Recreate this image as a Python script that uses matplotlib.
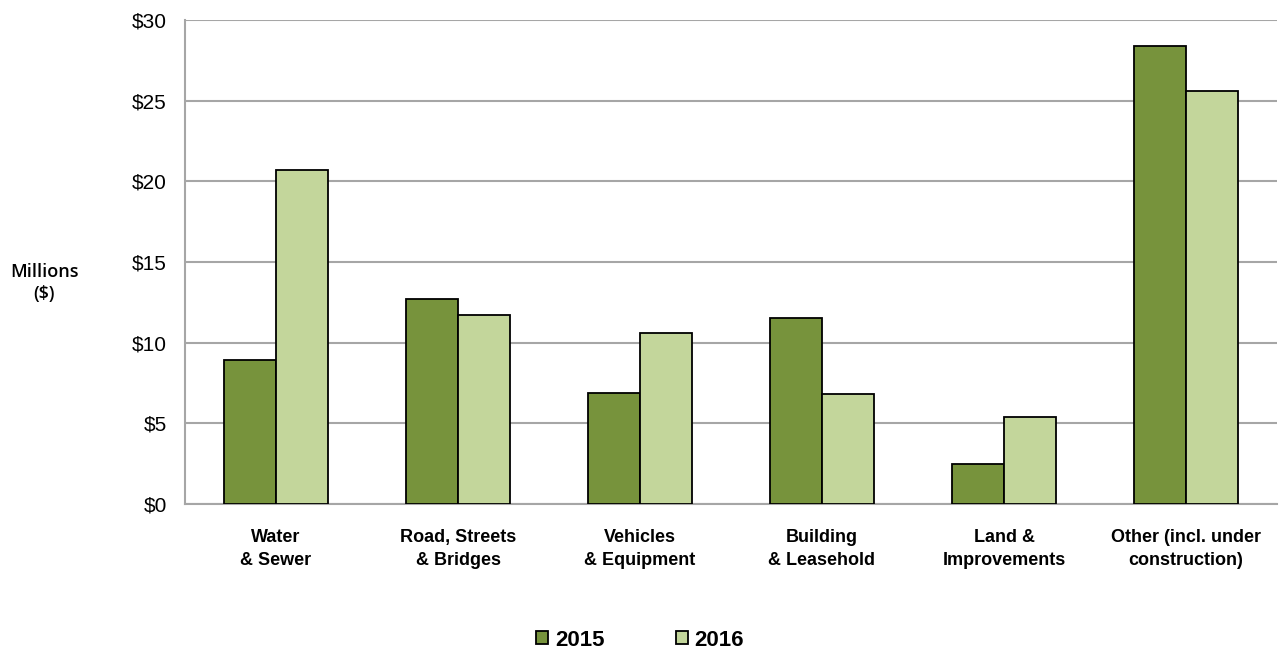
import matplotlib.pyplot as plt
import numpy as np

categories = [
    "Water\n& Sewer",
    "Road, Streets\n& Bridges",
    "Vehicles\n& Equipment",
    "Building\n& Leasehold",
    "Land &\nImprovements",
    "Other (incl. under\nconstruction)",
]
values_2015 = [8.9, 12.7, 6.9, 11.5, 2.5, 28.4]
values_2016 = [20.7, 11.7, 10.6, 6.8, 5.4, 25.6]
yticks = [0, 5, 10, 15, 20, 25, 30]

COLOR_2015 = "#77933c"
COLOR_2016 = "#c3d69b"
GRID = "#a6a6a6"
BAR_W = 0.286

plt.rcParams["font.family"] = ["Liberation Sans", "DejaVu Sans"]

fig = plt.figure(figsize=(12.8, 6.55), dpi=100)
ax = fig.add_axes([185 / 1280, 1 - 504 / 655, 1092 / 1280, 484 / 655])

x = np.arange(len(categories))
ax.bar(x - BAR_W / 2, values_2015, BAR_W, color=COLOR_2015, edgecolor="black",
       linewidth=1.3, label="2015", zorder=3)
ax.bar(x + BAR_W / 2, values_2016, BAR_W, color=COLOR_2016, edgecolor="black",
       linewidth=1.3, label="2016", zorder=3)

ax.set_xlim(-0.5, len(categories) - 0.5)
ax.set_ylim(0, 30)
ax.set_yticks(yticks)
ax.set_yticklabels([f"${v}" for v in yticks], fontsize=15)
ax.yaxis.grid(True, color=GRID, linewidth=1.5, zorder=0)
ax.tick_params(axis="y", length=0, pad=13)
ax.tick_params(axis="x", length=0, pad=18)
ax.set_xticks(x)
ax.set_xticklabels(categories, fontsize=13, fontweight="bold", linespacing=1.45)

for side in ["top", "right"]:
    ax.spines[side].set_visible(False)
for side in ["left", "bottom"]:
    ax.spines[side].set_color(GRID)
    ax.spines[side].set_linewidth(1.5)

fig.text(44 / 1280, 1 - 283 / 655, "Millions\n($)", ha="center", va="center",
         fontsize=13, family="Open Sans", fontweight="semibold", linespacing=1.35)

fig.legend(loc="center", bbox_to_anchor=(0.5, 1 - 640 / 655), ncol=2,
           frameon=False, prop={"size": 16, "weight": "bold"},
           handlelength=0.55, handleheight=0.55, columnspacing=3.2, handletextpad=0.3)

fig.savefig("out.png", dpi=100)
